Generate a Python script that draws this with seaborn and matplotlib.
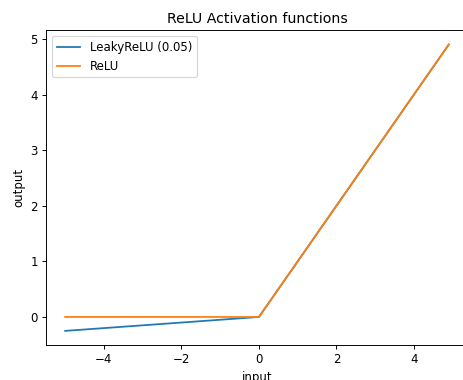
import matplotlib
matplotlib.use("Agg")
import matplotlib.pyplot as plt
import seaborn as sns
import numpy as np

# Breakpoints of the piecewise-linear activation curves
x_input = [-5.0, 0.0, 4.9]
leaky_relu = [-0.25, 0.0, 4.9]
relu = [0.0, 0.0, 4.9]

series_labels = ["LeakyReLU (0.05)", "ReLU"]
colors = ["#1f77b4", "#ff7f0e"]

dpi = 85
fig = plt.figure(figsize=(463 / dpi, 380 / dpi), dpi=dpi)
# axes extends slightly past the right edge of the canvas
ax = fig.add_axes([46 / 463, (380 - 345.2) / 380, 422 / 463, 315 / 380])

sns.lineplot(x=x_input, y=leaky_relu, ax=ax, color=colors[0],
             label=series_labels[0], linewidth=1.5)
sns.lineplot(x=x_input, y=relu, ax=ax, color=colors[1],
             label=series_labels[1], linewidth=1.5)

ax.set_title("ReLU Activation functions", fontsize=12)
ax.set_xlabel("input")
ax.set_ylabel("output")
ax.set_xticks([-4, -2, 0, 2, 4])
ax.set_yticks([0, 1, 2, 3, 4, 5])
ax.legend(loc="upper left")

fig.savefig("out.png", dpi=dpi)
